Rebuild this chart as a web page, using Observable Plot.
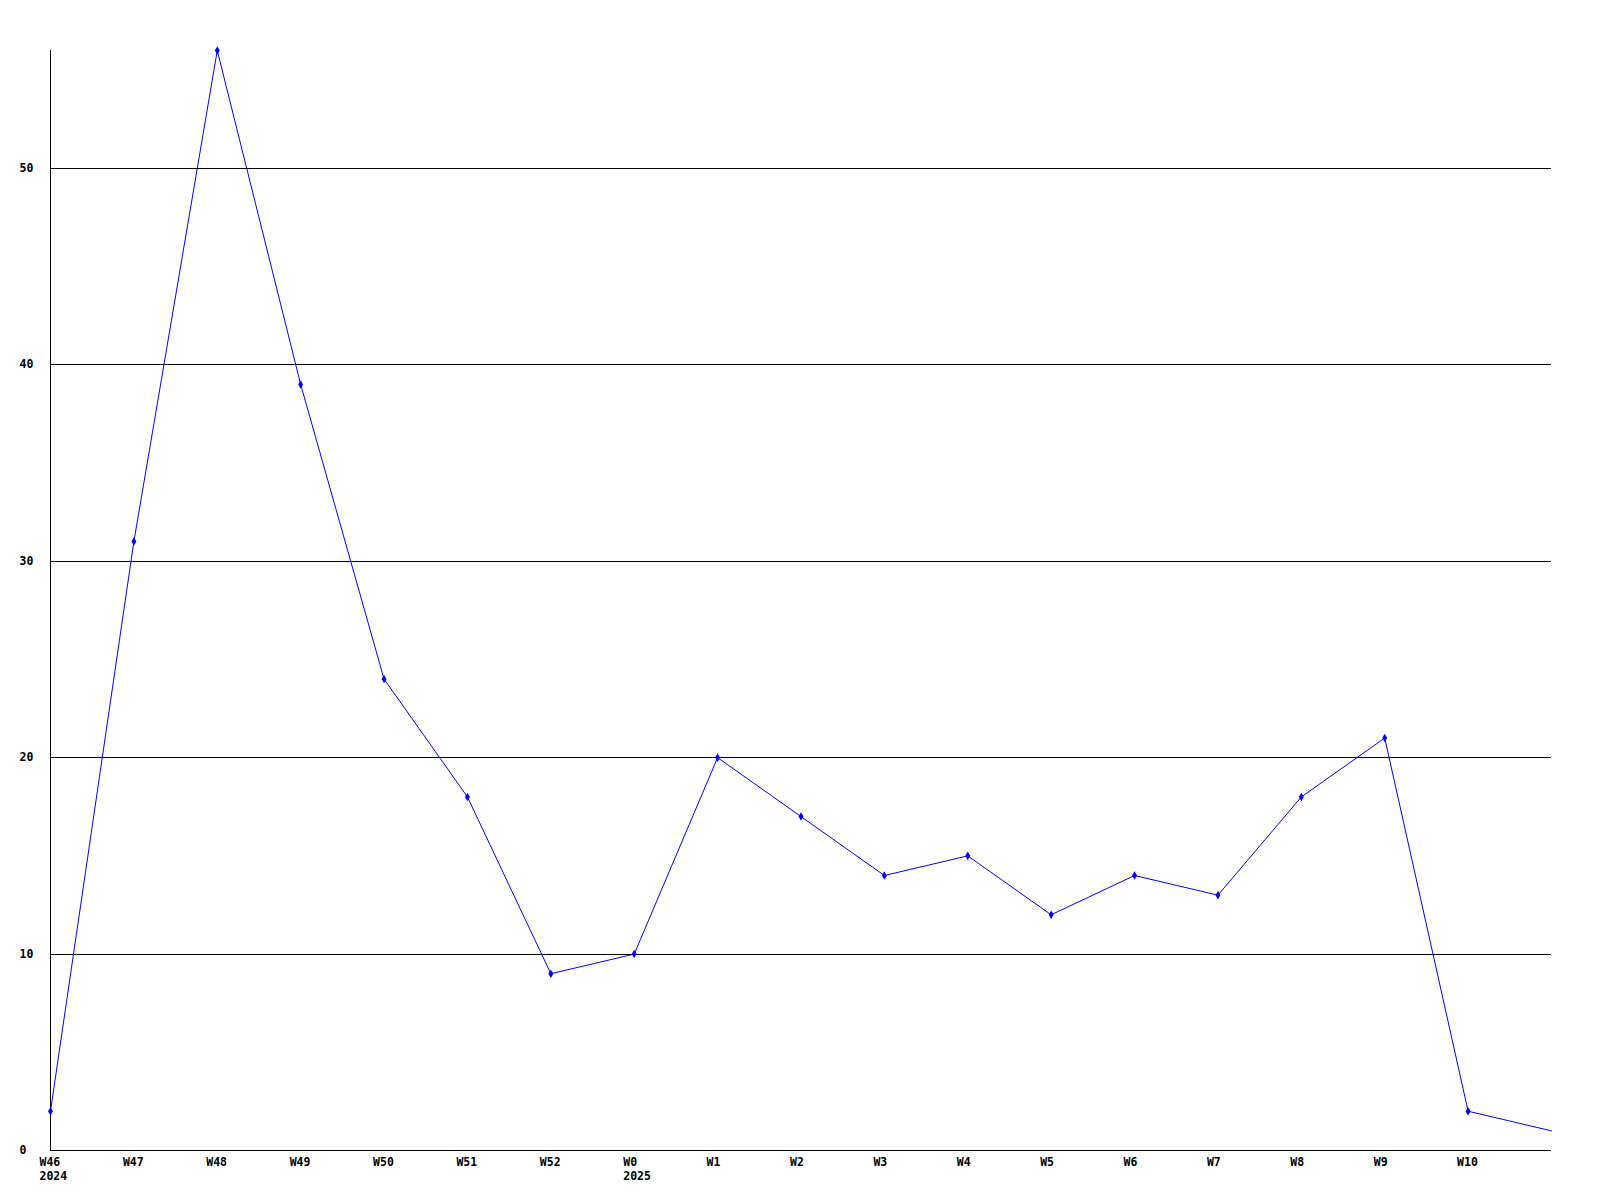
<!DOCTYPE html>
<html>
<head>
<meta charset="utf-8">
<script src="https://cdn.jsdelivr.net/npm/d3@7"></script>
<script src="https://cdn.jsdelivr.net/npm/@observablehq/plot@0.6"></script>
<style>
  html, body { margin: 0; padding: 0; background: #ffffff; }
  #chart { width: 1600px; height: 1200px; }
</style>
</head>
<body>
<div id="chart"></div>
<script>
const weeks = ["W46","W47","W48","W49","W50","W51","W52","W0","W1","W2","W3","W4","W5","W6","W7","W8","W9","W10",""];
const years = ["2024","","","","","","","2025","","","","","","","","","","",""];
const counts = [2,31,56,39,24,18,9,10,20,17,14,15,12,14,13,18,21,2,1];
const gridValues = [10,20,30,40,50];
const yTicks = [0,10,20,30,40,50];

const data = counts.map((v, i) => ({i, v, label: weeks[i] + (years[i] ? "\n" + years[i] : "")}));

const chart = Plot.plot({
  width: 1600,
  height: 1200,
  marginLeft: 50,
  marginRight: 49,
  marginTop: 50,
  marginBottom: 50,
  style: {fontFamily: "'DejaVu Sans Mono', monospace", fontSize: "11.5px", fontWeight: "bold", background: "#ffffff", color: "#000"},
  x: {domain: [0, counts.length - 1], axis: null},
  y: {domain: [0, 56], axis: null},
  marks: [
    Plot.ruleY(gridValues, {stroke: "#000", strokeWidth: 1, shapeRendering: "crispEdges"}),
    Plot.ruleY([0], {stroke: "#000", strokeWidth: 1.5, shapeRendering: "crispEdges"}),
    Plot.ruleX([0], {y1: 0, y2: 56, stroke: "#000", strokeWidth: 1.5, shapeRendering: "crispEdges"}),
    Plot.text(yTicks, {y: d => d, text: d => String(d), frameAnchor: "left", textAnchor: "start", dx: -31, fill: "#000"}),
    Plot.text(data.filter(d => d.label), {x: "i", text: "label", frameAnchor: "bottom", textAnchor: "start", lineAnchor: "top", dx: -11, dy: 6, lineHeight: 1.22, fill: "#000"}),
    Plot.line(data, {x: "i", y: "v", stroke: "#0000ff", strokeWidth: 1}),
    Plot.dot(data.slice(0, 18), {x: "i", y: "v", symbol: "diamond", r: 2.6, fill: "#0000ff", stroke: "none"})
  ]
});
document.getElementById("chart").appendChild(chart);
</script>
</body>
</html>
